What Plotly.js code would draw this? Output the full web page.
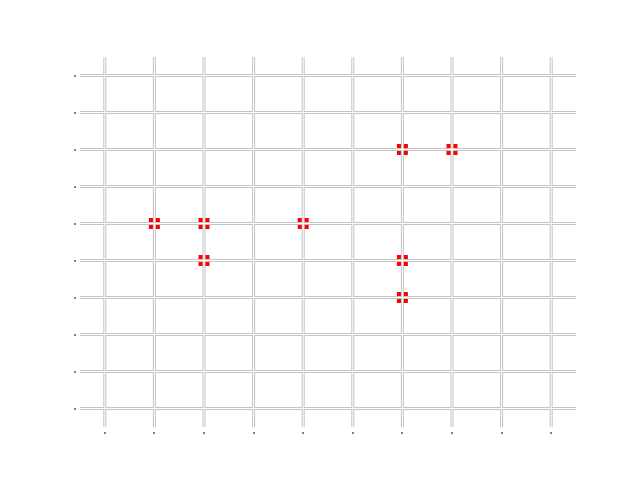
<!DOCTYPE html>
<html>
<head>
<meta charset="utf-8">
<script src="https://cdn.plot.ly/plotly-3.0.1.min.js"></script>
<style>html,body{margin:0;padding:0;background:#fff;}#chart{width:640px;height:480px;}</style>
</head>
<body>
<div id="chart"></div>
<script>
// Data
const xValues = [1, 2, 2, 4, 6, 7, 6, 6];
const yValues = [5, 5, 4, 5, 7, 7, 4, 3];
const xTicks = [0, 1, 2, 3, 4, 5, 6, 7, 8, 9];
const yTicks = [0, 1, 2, 3, 4, 5, 6, 7, 8, 9];

const shapes = [];
function gridLine(isX, v, color, width) {
  if (isX) {
    return {type: 'line', layer: 'above', xref: 'x', yref: 'y domain', x0: v, x1: v, y0: 0, y1: 1,
            line: {color: color, width: width}};
  }
  return {type: 'line', layer: 'above', xref: 'x domain', yref: 'y', x0: 0, x1: 1, y0: v, y1: v,
          line: {color: color, width: width}};
}
xTicks.forEach(v => shapes.push(gridLine(true, v, '#c4c4c4', 3)));
yTicks.forEach(v => shapes.push(gridLine(false, v, '#c4c4c4', 3)));
xTicks.forEach(v => shapes.push(gridLine(true, v, '#ffffff', 1)));
yTicks.forEach(v => shapes.push(gridLine(false, v, '#ffffff', 1)));

const trace = {
  x: xValues, y: yValues, type: 'scatter', mode: 'markers',
  marker: {symbol: 'square', size: 11, color: '#ff0000', line: {width: 0}},
  hoverinfo: 'none'
};

const layout = {
  width: 640, height: 480,
  margin: {l: 76, r: 64, t: 57, b: 49, pad: 0},
  paper_bgcolor: '#ffffff', plot_bgcolor: '#ffffff',
  showlegend: false,
  xaxis: {
    range: [-0.5, 9.5], domain: [4/500, 1], anchor: 'free', position: 0,
    tickvals: xTicks, showticklabels: false, ticks: 'outside', ticklen: 2, tickwidth: 2, tickcolor: '#808080',
    showgrid: false, zeroline: false, showline: false, fixedrange: true
  },
  yaxis: {
    range: [-0.5, 9.5], domain: [4/374, 1], anchor: 'free', position: 0,
    tickvals: yTicks, showticklabels: false, ticks: 'outside', ticklen: 2, tickwidth: 2, tickcolor: '#808080',
    showgrid: false, zeroline: false, showline: false, fixedrange: true
  },
  shapes: shapes
};

Plotly.newPlot('chart', [trace], layout, {displayModeBar: false, staticPlot: true});
</script>
</body>
</html>
